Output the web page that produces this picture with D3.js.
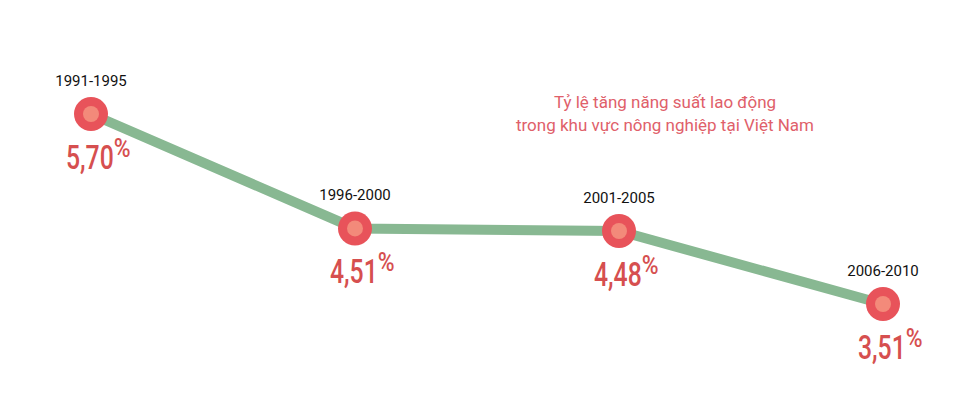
<!DOCTYPE html>
<html>
<head>
<meta charset="utf-8">
<script src="https://cdn.jsdelivr.net/npm/d3@7"></script>
<style>
  body { margin: 0; background: #fff; }
  .label { font-family: Roboto, sans-serif; font-size: 15px; fill: #111; }
  .value { font-family: Roboto, sans-serif; font-weight: 500; fill: #d64f4f; }
  .title { font-family: Roboto, sans-serif; font-size: 17px; fill: #e0606a; }
</style>
</head>
<body>
<div id="chart"></div>
<script>
// Data
const periods = ["1991-1995", "1996-2000", "2001-2005", "2006-2010"];
const rates = [5.70, 4.51, 4.48, 3.51];
const titleLines = ["Tỷ lệ tăng năng suất lao động", "trong khu vực nông nghiệp tại Việt Nam"];

const w = 973, h = 409;
const squeeze = 0.75;

const svg = d3.select("#chart")
  .append("svg")
  .attr("width", w)
  .attr("height", h);

// Scales
const x = d3.scalePoint()
  .domain(periods)
  .range([91, 883]);

// the original spreads the upper values a bit more, a square scale fits it best
const y = d3.scalePow()
  .exponent(2)
  .domain([3.51, 5.70])
  .range([304, 114]);

const data = periods.map((p, i) => ({ period: p, value: rates[i] }));

// Line
const line = d3.line()
  .x(d => x(d.period))
  .y(d => y(d.value));

svg.append("path")
  .datum(data)
  .attr("d", line)
  .attr("fill", "none")
  .attr("stroke", "#88b892")
  .attr("stroke-width", 10);

// Dots
const g = svg.selectAll("g.point")
  .data(data)
  .enter()
  .append("g")
  .attr("class", "point")
  .attr("transform", d => `translate(${x(d.period)},${y(d.value)})`);

g.append("circle")
  .attr("r", 17)
  .attr("fill", "#e8535a");

g.append("circle")
  .attr("r", 8)
  .attr("fill", "#f38a7a");

// Period labels
g.append("text")
  .attr("class", "label")
  .attr("text-anchor", "middle")
  .attr("y", -28)
  .text(d => d.period);

// Values, squeezed to look like a condensed face
g.append("text")
  .attr("class", "value num")
  .attr("transform", `translate(-25,55) scale(${squeeze},1)`)
  .style("font-size", "33px")
  .text(d => d3.format(".2f")(d.value).replace(".", ","));

// Percent sign right after each value
g.append("text")
  .attr("class", "value")
  .attr("transform", function () {
    const num = this.parentNode.querySelector("text.num");
    const px = -25 + num.getComputedTextLength() * squeeze;
    return `translate(${px},43) scale(0.88,1)`;
  })
  .style("font-size", "26px")
  .text("%");

// Title
svg.append("text")
  .attr("class", "title")
  .attr("text-anchor", "middle")
  .selectAll("tspan")
  .data(titleLines)
  .enter()
  .append("tspan")
  .attr("x", 665)
  .attr("y", (d, i) => 108 + i * 23)
  .text(d => d);
</script>
</body>
</html>
